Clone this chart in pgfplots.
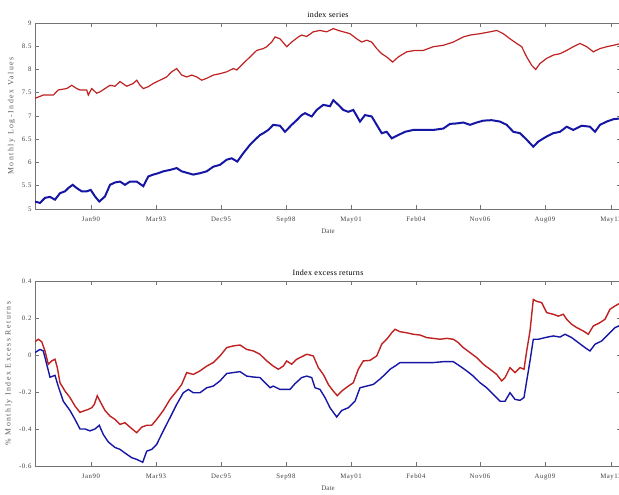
\documentclass[border=0pt]{standalone}
\usepackage{pgfplots}
\pgfplotsset{compat=1.18}
\usepackage{fontspec}
\setmainfont{Liberation Serif}
\definecolor{lred}{RGB}{190,34,34}
\definecolor{lblue}{RGB}{22,22,165}
\pgfplotsset{
 myax/.style={
  scale only axis, width=586pt,
  xmin=35, xmax=621,
  xtick={91,156,221,286,351,416,480,545,611},
  xticklabels={Jan90,Mar93,Dec95,Sep98,May01,Feb04,Nov06,Aug09,May12},
  tick align=inside, major tick length=4pt,
  axis line style={black!55, line width=0.8pt},
  every tick/.style={black!55, line width=0.6pt},
  tick label style={font=\fontsize{6.8}{8}\selectfont\addfontfeature{LetterSpace=8}, text=black!75},
  xticklabel style={yshift=-4pt},
  /pgf/number format/assume math mode=true,
  xlabel style={font=\fontsize{7}{8}\selectfont, text=black!70},
  ylabel style={font=\fontsize{7.8}{9}\selectfont\addfontfeature{LetterSpace=20}, text=black!65},
  title style={font=\fontsize{8}{9}\selectfont\addfontfeature{LetterSpace=4}, yshift=-4pt},
  xlabel=Date,
 }}
\begin{document}
\begin{tikzpicture}
\path[use as bounding box] (0pt,0pt) rectangle (619pt,495pt);
\begin{axis}[myax, at={(35pt,286pt)}, anchor=south west, height=186pt,
  ymin=5, ymax=9, ytick={5,5.5,6,6.5,7,7.5,8,8.5,9},
  title={index series}, ylabel={Monthly Log-Index Values}]
\addplot[lred, line width=1.2pt] coordinates {
(35,7.38)(43.3,7.45)(53.3,7.45)(58.3,7.56)(66.7,7.59)(71.7,7.66)(76.7,7.59)(80,7.56)(86.7,7.56)(88.3,7.45)
(91.7,7.59)(96.7,7.49)(100,7.52)(110,7.66)(115,7.64)(120,7.74)(126.7,7.64)(133.3,7.7)(136.7,7.77)(140,7.66)
(143.3,7.59)(148.3,7.63)(153.3,7.7)(160,7.77)(166.7,7.84)(171.7,7.95)(176.7,8.02)(181.7,7.88)(186.7,7.84)(191.7,7.88)
(196.7,7.84)(201.7,7.77)(206.7,7.81)(213.3,7.88)(220,7.91)(226.7,7.95)(233.3,8.02)(236.7,7.99)(243.3,8.13)(250,8.27)
(256.7,8.41)(263.3,8.45)(266.7,8.49)(271.7,8.59)(275,8.7)(280,8.66)(286.7,8.49)(291.7,8.59)(298.3,8.7)(301.7,8.74)
(306.7,8.71)(313.3,8.81)(320,8.84)(326.7,8.81)(333.3,8.88)(338.3,8.84)(343.3,8.81)(350,8.77)(356.7,8.66)(361.7,8.59)
(366.7,8.63)(371.7,8.59)(376.7,8.45)(381.7,8.34)(386.7,8.27)(392.7,8.16)(398.3,8.27)(406.7,8.38)(415,8.41)(423.3,8.41)
(433.3,8.49)(443.3,8.52)(453.3,8.59)(463.3,8.7)(470,8.74)(480,8.77)(490,8.81)(496.7,8.84)(503.3,8.77)(510,8.66)
(516.7,8.56)(521.7,8.49)(526.7,8.27)(531.7,8.09)(535.7,8.0)(540,8.13)(546.7,8.24)(553.3,8.31)(560,8.34)(566.7,8.41)
(573.3,8.49)(580,8.56)(586.7,8.49)(593.3,8.38)(600,8.45)(606.7,8.49)(613.3,8.52)(621,8.56)};
\addplot[lblue, line width=2pt] coordinates {
(35,5.16)(40,5.13)(45,5.24)(50,5.26)(55,5.2)(60,5.34)(65,5.38)(68.3,5.45)(72.7,5.52)(76.7,5.45)
(81.7,5.38)(86.7,5.38)(90.7,5.41)(95,5.27)(99.3,5.16)(105,5.27)(110,5.52)(115,5.57)(120,5.59)(125,5.52)
(130,5.59)(136.7,5.59)(143.3,5.49)(148.3,5.7)(153.3,5.74)(158.3,5.77)(163.3,5.81)(170,5.84)(176.7,5.88)(181.7,5.81)
(188.3,5.77)(193.3,5.74)(200,5.77)(206.7,5.81)(213.3,5.91)(220,5.95)(226.7,6.06)(231.7,6.09)(237.3,6.02)(243.3,6.2)
(250,6.38)(255,6.49)(260,6.59)(263.3,6.63)(268.3,6.7)(273.3,6.81)(280,6.79)(285,6.66)(291.7,6.81)(296.7,6.91)
(301.7,7.02)(305,7.06)(311.7,6.99)(316.7,7.13)(323.3,7.24)(330,7.21)(333.3,7.34)(338.3,7.24)(343.3,7.13)(348.3,7.09)
(353.3,7.13)(360,6.88)(365,7.02)(371.7,6.99)(376.7,6.81)(381.7,6.63)(386.7,6.66)(391.7,6.52)(398.3,6.59)(405,6.66)
(413.3,6.7)(423.3,6.7)(433.3,6.7)(443.3,6.73)(450,6.83)(456.7,6.84)(463.3,6.86)(470,6.81)(476.7,6.86)(483.3,6.9)
(491.7,6.91)(500,6.88)(506.7,6.81)(513.3,6.66)(520,6.63)(526.7,6.49)(533.3,6.34)(538.3,6.45)(546.7,6.56)(553.3,6.63)
(560,6.66)(566.7,6.77)(573.3,6.7)(581.7,6.79)(590,6.77)(595,6.66)(600,6.81)(606.7,6.88)(613.3,6.93)(621,6.95)};
\end{axis}
\begin{axis}[myax, at={(35pt,29pt)}, anchor=south west, height=185pt,
  ymin=-0.6, ymax=0.4, ytick={-0.6,-0.4,-0.2,0,0.2,0.4},
  title={Index excess returns}, ylabel={\% Monthly Index Excess Returns}]
\addplot[lred, line width=1.4pt] coordinates {
(35,0.072)(38.3,0.085)(41.7,0.072)(45,0.022)(48.3,-0.05)(51.7,-0.032)(55,-0.023)(57.3,-0.068)(60,-0.15)(65,-0.195)
(70,-0.23)(75,-0.276)(80,-0.31)(85,-0.30)(88.3,-0.294)(91.7,-0.285)(94.3,-0.267)(97.3,-0.22)(100,-0.25)(105,-0.30)
(110,-0.33)(115,-0.348)(120,-0.375)(125,-0.366)(130,-0.39)(136.7,-0.42)(141.7,-0.39)(146.7,-0.38)(151.7,-0.38)(156.7,-0.348)
(163.3,-0.30)(170,-0.24)(176.7,-0.195)(181.7,-0.159)(186.7,-0.095)(193.3,-0.105)(200,-0.086)(206.7,-0.06)(213.3,-0.041)(220,-0.005)
(226.7,0.04)(233.3,0.049)(240,0.054)(246.7,0.03)(253.3,0.022)(260,0.004)(266.7,-0.032)(273.3,-0.06)(278.3,-0.077)(283.3,-0.06)
(286.7,-0.032)(291.7,-0.05)(296.7,-0.023)(300,-0.014)(306.7,0.004)(313.3,-0.005)(318.3,-0.068)(323.3,-0.105)(328.3,-0.159)(333.3,-0.195)
(337.3,-0.22)(341.7,-0.195)(348.3,-0.168)(353.3,-0.15)(358.3,-0.077)(363.3,-0.032)(370,-0.029)(376.7,-0.005)(381.7,0.058)(386.7,0.085)
(391.7,0.12)(395,0.139)(400,0.126)(406.7,0.12)(413.3,0.112)(420,0.108)(426.7,0.094)(433.3,0.09)(440,0.085)(446.7,0.09)
(453.3,0.085)(458.3,0.067)(463.3,0.04)(470,0.013)(476.7,-0.014)(483.3,-0.05)(490,-0.077)(496.7,-0.105)(501.7,-0.14)(505,-0.122)
(510,-0.068)(515,-0.095)(520,-0.068)(524,-0.077)(526.7,0.022)(530,0.13)(533.3,0.30)(536.7,0.29)(541.7,0.283)(546.7,0.229)
(553.3,0.22)(558.3,0.21)(563.3,0.22)(566.7,0.193)(571.7,0.166)(576.7,0.148)(583.3,0.13)(588.3,0.112)(593.3,0.157)(600,0.175)
(605,0.193)(610,0.247)(615,0.265)(621,0.283)};
\addplot[lblue, line width=1.4pt] coordinates {
(35,0.013)(40,0.03)(43.3,0.022)(46.7,-0.05)(50,-0.12)(55,-0.11)(58.3,-0.17)(63.3,-0.25)(70,-0.30)(75,-0.348)
(80,-0.40)(85,-0.40)(90,-0.41)(95,-0.40)(99.3,-0.38)(103.3,-0.43)(108.3,-0.47)(115,-0.50)(120,-0.51)(125,-0.53)
(131.7,-0.555)(136.7,-0.564)(142.7,-0.58)(146.7,-0.52)(151.7,-0.51)(156.7,-0.483)(163.3,-0.41)(170,-0.339)(176.7,-0.267)(183.3,-0.204)
(188.3,-0.186)(193.3,-0.204)(200,-0.204)(206.7,-0.177)(213.3,-0.168)(220,-0.14)(226.7,-0.10)(233.3,-0.095)(240,-0.09)(246.7,-0.114)
(253.3,-0.119)(260,-0.122)(266.7,-0.159)(270,-0.177)(273.3,-0.168)(280,-0.186)(285,-0.186)(290,-0.186)(295,-0.155)(301.7,-0.122)
(306.7,-0.114)(311.7,-0.122)(315,-0.177)(320,-0.186)(325,-0.23)(330,-0.285)(336.7,-0.335)(341.7,-0.30)(348.3,-0.285)(355,-0.25)
(360,-0.177)(366.7,-0.168)(373.3,-0.159)(380,-0.13)(385,-0.105)(390,-0.077)(395,-0.06)(400,-0.041)(410,-0.041)(420,-0.041)
(433.3,-0.041)(443.3,-0.036)(453.3,-0.036)(460,-0.06)(466.7,-0.086)(473.3,-0.114)(480,-0.15)(486.7,-0.177)(493.3,-0.213)(500,-0.25)
(505,-0.25)(510,-0.204)(515,-0.24)(520,-0.245)(524,-0.23)(526.7,-0.14)(530,-0.032)(533.3,0.085)(538.3,0.085)(545,0.094)
(553.3,0.103)(560,0.097)(565,0.112)(571.7,0.094)(578.3,0.067)(585,0.04)(590,0.022)(595,0.058)(601.7,0.076)(608.3,0.112)
(615,0.148)(621,0.162)};
\end{axis}
\end{tikzpicture}
\end{document}
